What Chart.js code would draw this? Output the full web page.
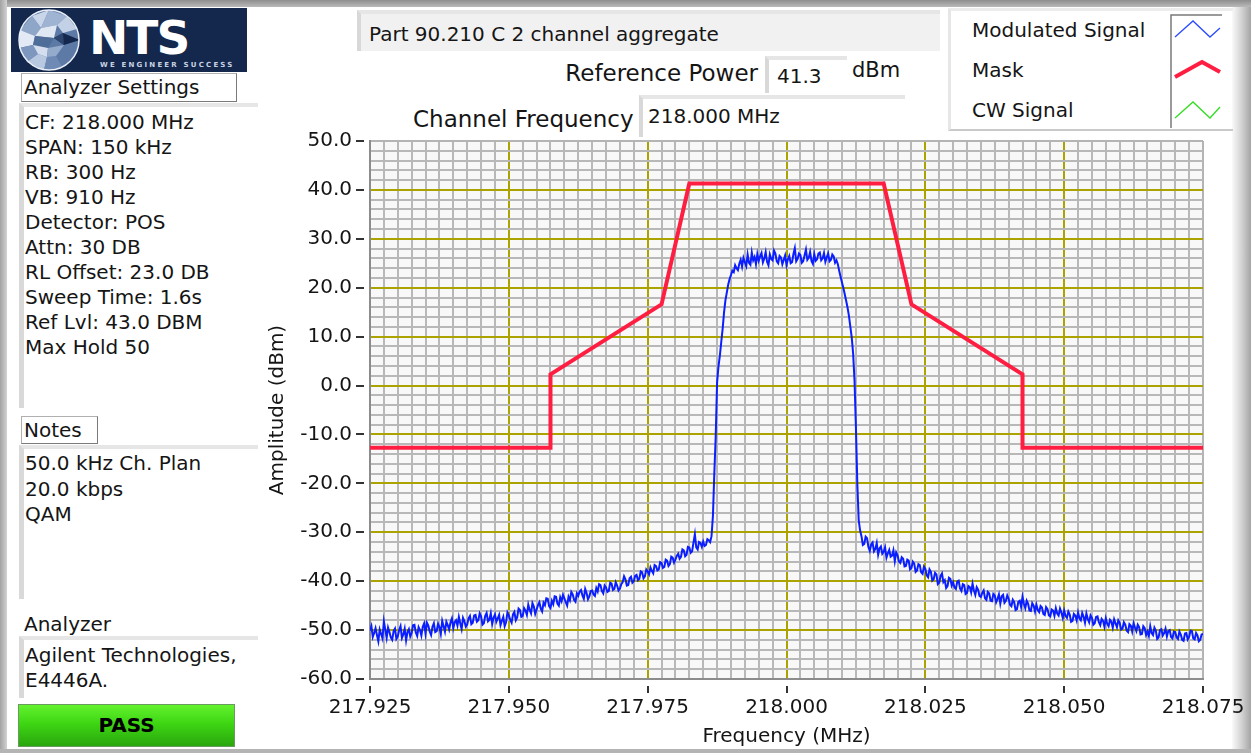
<!DOCTYPE html>
<html>
<head>
<meta charset="utf-8">
<script src="https://cdn.jsdelivr.net/npm/chart.js@4.4.1/dist/chart.umd.min.js"></script>
<style>
body { margin:0; width:1251px; height:753px; overflow:hidden; background:#fff; position:relative;
  font-family:"DejaVu Sans", Verdana, sans-serif; font-size:20px; color:#151515; }
.abs { position:absolute; }
.frameTop { left:0; top:0; width:1251px; height:7px; background:linear-gradient(#8e8e8e,#b9b9b9); }
.frameLeft { left:0; top:0; width:7px; height:753px; background:linear-gradient(90deg,#a2a2a2,#d2d2d2); }
.frameRight { left:1232px; top:7px; width:19px; height:746px; background:linear-gradient(90deg,#fafafa,#cfcfcf 55%,#a4a4a4); }
.frameBottom { left:0; top:749px; width:1251px; height:4px; background:#b4b4b4; }
.panel { background:#fff; border-left:5px solid #d9d9d9; border-top:4px solid #e6e6e6; box-sizing:border-box; line-height:25px; white-space:nowrap; }
.label { background:#fff; border:1px solid #b0b0b0; border-right-color:#7a7a7a; border-bottom-color:#7a7a7a; box-sizing:border-box; line-height:26px; padding-left:2px; white-space:nowrap; }
.logo { left:11px; top:8px; width:236px; height:64px; background:#14284d; overflow:hidden; }
.nts { left:78px; top:2px; font-weight:bold; font-size:47px; color:#fff; letter-spacing:-2px; }
.tag { left:89px; top:53px; font-size:7px; color:#c9d2e3; letter-spacing:2.2px; font-weight:bold; }
.pass { left:18px; top:704px; width:217px; height:43px; background:linear-gradient(#63f22e,#3ed613 45%,#2aa60e); border:1px solid #6a9a60;
  box-sizing:border-box; text-align:center; font-weight:bold; line-height:41px; color:#000; }
.field { background:#fff; border-left:4px solid #d8d8d8; border-top:4px solid #e6e6e6; box-sizing:border-box; white-space:nowrap; }
</style>
</head>
<body>
<div class="abs frameTop"></div>
<div class="abs frameLeft"></div>
<div class="abs frameRight"></div>
<div class="abs frameBottom"></div>

<div class="abs logo">
  <svg class="abs" style="left:0px;top:0px" width="80" height="64" viewBox="0 0 80 64">
    <circle cx="38" cy="32" r="30" fill="#5d7aa6"/>
    <polygon points="38,2 21,8 30,20" fill="#c9d6ea"/>
    <polygon points="21,8 9,22 24,28 30,20" fill="#8ea7c9"/>
    <polygon points="9,22 8,40 22,37 24,28" fill="#e3eaf5"/>
    <polygon points="8,40 16,54 27,46 22,37" fill="#7d97be"/>
    <polygon points="16,54 33,62 36,49 27,46" fill="#b8c8e0"/>
    <polygon points="33,62 51,59 45,48 36,49" fill="#6f8bb5"/>
    <polygon points="38,2 56,8 46,17 30,20" fill="#9fb4d3"/>
    <polygon points="30,20 46,17 43,30 24,28" fill="#dfe7f3"/>
    <polygon points="24,28 43,30 37,40 22,37" fill="#4f6d99"/>
    <polygon points="22,37 37,40 36,49 27,46" fill="#d4deee"/>
    <polygon points="37,40 53,37 45,48 36,49" fill="#94abcc"/>
    <polygon points="56,8 66,21 52,25 46,17" fill="#c3d1e7"/>
    <polygon points="52,25 69,32 53,37 43,30" fill="#14284d"/>
    <polygon points="43,30 52,25 53,37" fill="#2c4670"/>
    <circle cx="38" cy="32" r="30" fill="none" stroke="#e9eef7" stroke-width="1.5"/>
  </svg>
  <div class="abs nts">NTS</div>
  <div class="abs tag">WE ENGINEER SUCCESS</div>
</div>

<div class="abs label" style="left:21px;top:73px;width:216px;height:29px;">Analyzer Settings</div>
<div class="abs panel" style="left:19px;top:103px;width:239px;height:305px;padding:3px 0 0 1px;">
CF: 218.000 MHz<br>SPAN: 150 kHz<br>RB: 300 Hz<br>VB: 910 Hz<br>Detector: POS<br>Attn: 30 DB<br>RL Offset: 23.0 DB<br>Sweep Time: 1.6s<br>Ref Lvl: 43.0 DBM<br>Max Hold 50
</div>

<div class="abs label" style="left:21px;top:416px;width:77px;height:28px;">Notes</div>
<div class="abs panel" style="left:19px;top:445px;width:239px;height:154px;padding:2px 0 0 1px;line-height:25.5px;">
50.0 kHz Ch. Plan<br>20.0 kbps<br>QAM
</div>

<div class="abs" style="left:24px;top:611px;line-height:26px;">Analyzer</div>
<div class="abs panel" style="left:19px;top:636px;width:239px;height:62px;padding:3px 0 0 1px;">
Agilent Technologies,<br>E4446A.
</div>

<div class="abs pass">PASS</div>

<div class="abs field" style="left:357px;top:10px;width:583px;height:41px;background:#f1f1f1;padding-left:8px;line-height:40px;">Part 90.210 C 2 channel aggregate</div>

<div class="abs" style="left:500px;top:59px;width:258px;text-align:right;line-height:28px;font-size:23px;">Reference Power</div>
<div class="abs field" style="left:765px;top:56px;width:82px;height:37px;padding-left:8px;line-height:33px;">41.3</div>
<div class="abs" style="left:852px;top:57px;line-height:26px;font-size:21px;">dBm</div>

<div class="abs" style="left:413px;top:105px;line-height:28px;font-size:23px;">Channel Frequency</div>
<div class="abs field" style="left:639px;top:95px;width:266px;height:42px;padding-left:5px;line-height:34px;">218.000 MHz</div>

<div class="abs" style="left:948px;top:8px;width:285px;height:123px;border-left:3px solid #e6e6e6;border-top:3px solid #ececec;border-bottom:2px solid #c9c9c9;box-sizing:border-box;"></div>
<div class="abs" style="left:972px;top:17px;line-height:26px;">Modulated Signal</div>
<div class="abs" style="left:972px;top:57px;line-height:26px;">Mask</div>
<div class="abs" style="left:972px;top:97px;line-height:26px;">CW Signal</div>
<svg class="abs" style="left:1170px;top:14px" width="52" height="114">
  <polyline points="1,114 1,1 52,1" fill="none" stroke="#7a7a7a" stroke-width="1.5"/>
  <polyline points="5,23 23,7 40,23 50,14" fill="none" stroke="#2a4cff" stroke-width="1.3"/>
  <polyline points="5,63 32,48 50,58" fill="none" stroke="#ff1e42" stroke-width="4"/>
  <polyline points="5,104 23,88 40,104 50,93" fill="none" stroke="#33dd22" stroke-width="1.3"/>
</svg>

<canvas id="spectrumChart" class="abs" style="left:0;top:0" width="1251" height="753"></canvas>

<script>
// sweep: 601 points, 217.925 .. 218.075 MHz
var sweepStart = 217.925;
var sweepStep = 0.00025;

var sigAmp = [
  -50.1, -49.2, -51.4, -50.6, -49.6, -51.0, -52.3, -49.9, -50.8, -51.7, -48.2, -49.9, -51.6, -49.5, -50.4, -51.5, -52.0, -50.2, -49.7, -51.8,
  -51.3, -50.0, -49.2, -51.6, -50.9, -49.7, -52.1, -50.4, -49.8, -51.3, -50.6, -49.0, -48.9, -50.5, -51.2, -49.4, -50.0, -51.1, -49.3, -48.6,
  -50.7, -48.5, -49.1, -50.3, -51.0, -49.3, -48.6, -50.4, -50.2, -48.7, -49.4, -50.8, -48.1, -49.2, -50.3, -48.3, -49.0, -49.9, -48.4, -47.6,
  -49.6, -48.4, -48.0, -49.1, -47.3, -48.6, -49.8, -47.5, -48.2, -49.3, -48.9, -47.6, -47.1, -48.8, -48.5, -47.0, -46.9, -48.3, -48.0, -46.6,
  -47.2, -48.9, -48.6, -47.1, -46.5, -48.2, -47.9, -46.6, -48.8, -47.5, -46.8, -48.3, -47.6, -46.9, -49.0, -48.1, -47.3, -49.2, -48.4, -46.4,
  -47.0, -47.9, -48.5, -46.8, -46.3, -48.0, -47.4, -45.6, -45.9, -47.3, -47.1, -45.5, -46.0, -46.9, -44.8, -45.9, -46.6, -44.5, -45.2, -46.7,
  -45.8, -44.9, -44.3, -45.6, -46.2, -44.4, -44.9, -43.5, -43.6, -45.1, -45.5, -44.0, -44.7, -43.1, -43.2, -44.6, -45.0, -43.3, -44.1, -42.8,
  -43.5, -44.3, -45.0, -43.2, -43.9, -42.2, -42.7, -43.8, -44.2, -42.5, -43.0, -42.1, -41.8, -42.9, -43.6, -41.6, -42.4, -43.7, -43.1, -42.0,
  -41.9, -42.7, -43.0, -41.4, -42.1, -40.6, -40.8, -42.0, -42.5, -40.9, -41.3, -42.2, -42.0, -40.3, -40.5, -41.8, -41.6, -40.2, -40.9, -41.9,
  -41.5, -40.6, -40.2, -39.0, -39.6, -40.9, -40.8, -39.4, -39.1, -40.3, -40.0, -38.9, -38.7, -39.8, -39.5, -38.0, -38.2, -39.4, -39.0, -37.6,
  -38.0, -38.6, -37.2, -37.9, -38.4, -36.7, -36.9, -37.8, -37.6, -36.1, -36.3, -37.3, -37.1, -35.6, -35.8, -36.9, -36.5, -35.0, -35.2, -36.2,
  -35.6, -34.8, -34.4, -35.4, -35.0, -33.5, -33.7, -34.9, -34.6, -33.0, -33.1, -34.2, -33.9, -32.1, -30.4, -33.1, -33.5, -32.0, -32.2, -33.0,
  -31.9, -32.8, -32.6, -31.4, -31.6, -32.0, -30.8, -26.7, -18.0, -10.5, 0.6, 3.9, 6.1, 8.9, 11.6, 14.9, 17.4, 19.0, 20.6, 21.8,
  22.6, 23.5, 23.2, 24.6, 24.0, 23.6, 24.9, 25.7, 24.3, 26.1, 25.2, 24.4, 26.8, 25.1, 24.7, 27.2, 25.6, 26.3, 24.8, 26.9,
  25.5, 26.4, 27.1, 25.2, 26.0, 27.3, 25.3, 24.6, 26.8, 25.9, 25.6, 27.6, 27.0, 25.4, 25.0, 26.5, 26.2, 24.8, 25.7, 26.6,
  24.6, 25.8, 26.5, 25.0, 25.2, 26.9, 28.1, 25.4, 25.9, 27.0, 26.7, 25.1, 25.4, 26.6, 27.8, 25.7, 26.1, 27.3, 25.5, 24.9,
  26.9, 25.5, 25.8, 27.0, 27.2, 25.6, 26.0, 27.1, 25.3, 26.2, 27.0, 25.4, 25.7, 26.8, 26.4, 25.1, 25.6, 24.8, 23.4, 22.2,
  21.0, 19.9, 18.6, 17.3, 15.9, 14.2, 12.0, 9.8, 6.5, 1.0, -8.5, -20.0, -27.5, -29.6, -30.8, -32.6, -32.4, -30.9, -31.2, -33.0,
  -33.8, -32.5, -32.1, -33.9, -33.4, -32.2, -34.6, -33.3, -32.9, -34.4, -34.0, -33.1, -35.2, -34.3, -33.6, -35.0, -34.8, -33.7, -35.9, -34.1,
  -34.7, -36.0, -36.3, -35.1, -35.4, -37.0, -36.9, -35.6, -35.8, -37.6, -37.3, -36.0, -36.4, -38.1, -37.8, -36.5, -36.7, -38.2, -38.5, -37.0,
  -37.5, -38.8, -39.2, -37.6, -38.1, -39.9, -39.6, -38.3, -38.6, -40.6, -40.3, -38.9, -38.4, -40.2, -39.8, -41.4, -41.0, -39.3, -39.5, -40.9,
  -40.2, -41.3, -41.6, -40.1, -39.9, -41.5, -42.0, -40.6, -40.8, -42.6, -42.4, -41.0, -41.2, -42.3, -40.5, -41.9, -42.8, -41.2, -41.7, -43.0,
  -43.2, -42.4, -41.9, -43.5, -43.8, -42.2, -42.5, -44.0, -44.1, -42.6, -42.9, -44.3, -43.6, -42.7, -44.6, -43.1, -42.8, -44.4, -44.0, -42.9,
  -43.6, -44.8, -45.1, -43.8, -44.3, -45.9, -45.7, -44.2, -44.0, -45.3, -43.2, -44.6, -45.5, -44.0, -44.6, -46.0, -46.1, -44.5, -45.0, -46.2,
  -44.8, -45.9, -46.3, -45.1, -45.4, -46.7, -46.9, -45.3, -45.7, -47.0, -47.2, -45.8, -46.0, -47.1, -45.5, -46.6, -47.0, -45.6, -46.4, -47.5,
  -46.0, -47.1, -47.5, -46.2, -46.8, -48.3, -48.1, -46.7, -47.0, -48.0, -46.4, -47.6, -48.0, -46.5, -47.3, -48.5, -46.6, -47.7, -48.4, -47.0,
  -47.5, -48.9, -48.6, -47.3, -47.2, -48.4, -49.0, -47.7, -48.1, -49.3, -47.6, -48.7, -49.2, -47.9, -48.3, -49.5, -47.8, -48.6, -49.4, -48.0,
  -48.5, -49.9, -49.7, -48.4, -48.9, -50.1, -50.4, -48.8, -49.1, -50.3, -48.6, -49.5, -50.2, -48.9, -49.4, -50.9, -50.8, -49.2, -49.6, -51.0,
  -50.3, -51.2, -49.2, -50.6, -51.0, -49.5, -50.1, -51.8, -51.5, -50.0, -49.8, -51.1, -50.6, -49.7, -51.3, -50.2, -50.0, -51.4, -51.7, -50.3,
  -50.4, -51.5, -51.8, -50.3, -50.9, -52.0, -52.2, -50.7, -50.6, -51.9, -51.4, -50.1, -50.2, -51.7, -51.9, -50.6, -51.1, -52.3, -52.0, -50.9, -50.8
];

var maskFreq = [217.925, 217.9575, 217.9575, 217.9775, 217.9825, 218.0175, 218.0225, 218.0425, 218.0425, 218.075];
var maskAmp = [-12.7, -12.7, 2.3, 16.6, 41.3, 41.3, 16.6, 2.3, -12.7, -12.7];

var xMin = 217.925, xMax = 218.075, xStep = 0.0025, xMajor = 0.025;
var yMin = -60, yMax = 50, yStep = 2, yMajor = 10;

var sigData = sigAmp.map(function (a, i) { return { x: sweepStart + i * sweepStep, y: a }; });
var maskData = maskFreq.map(function (f, i) { return { x: f, y: maskAmp[i] }; });

function isMajor(v, base, major) {
  var k = (v - base) / major;
  return Math.abs(k - Math.round(k)) < 1e-4;
}

var plotBg = {
  id: 'plotBg',
  beforeDraw: function (chart) {
    var a = chart.chartArea, c = chart.ctx;
    c.save();
    c.fillStyle = '#f8f8f8';
    c.fillRect(a.left, a.top, a.right - a.left, a.bottom - a.top);
    c.restore();
  }
};

Chart.defaults.font.family = '"DejaVu Sans", Verdana, sans-serif';
Chart.defaults.font.size = 20;
Chart.defaults.color = '#151515';

var ctx = document.getElementById('spectrumChart').getContext('2d');
var spectrumChart = new Chart(ctx, {
  type: 'line',
  data: {
    datasets: [
      { label: 'Modulated Signal', data: sigData, borderColor: '#0a1eff', borderWidth: 2, pointRadius: 0, tension: 0 },
      { label: 'Mask', data: maskData, borderColor: '#ff1e42', borderWidth: 4, pointRadius: 0, tension: 0 },
      { label: 'CW Signal', data: [], borderColor: '#33dd22', borderWidth: 1, pointRadius: 0 }
    ]
  },
  options: {
    responsive: false,
    animation: false,
    events: [],
    layout: { padding: { left: 262, top: 141, right: 48, bottom: 0 } },
    plugins: { legend: { display: false }, tooltip: { enabled: false } },
    scales: {
      x: {
        type: 'linear', min: xMin, max: xMax,
        afterFit: function (s) { s.height = 74; },
        ticks: {
          stepSize: xStep, autoSkip: false, maxRotation: 0, padding: 3, color: '#151515',
          callback: function (v) { return isMajor(v, xMin, xMajor) ? v.toFixed(3) : ''; }
        },
        grid: {
          lineWidth: 2, tickLength: 14, tickWidth: 2, tickBorderDash: [0, 6, 8, 100],
          color: function (c) {
            var v = c.tick ? c.tick.value : 0;
            if (Math.abs(v - xMax) < 1e-6) return '#b4b4b4';
            return isMajor(v, xMin, xMajor) ? '#aba300' : '#b8b8b8';
          },
          tickColor: function (c) {
            var v = c.tick ? c.tick.value : 0;
            return isMajor(v, xMin, xMajor) ? '#333' : 'rgba(0,0,0,0)';
          }
        },
        border: { display: true, color: '#8c8c8c', width: 2 },
        title: { display: true, text: 'Frequency (MHz)', color: '#151515', font: { size: 20 } }
      },
      y: {
        min: yMin, max: yMax,
        afterFit: function (s) { s.width = 108; },
        ticks: {
          stepSize: yStep, autoSkip: false, padding: 4, color: '#151515',
          callback: function (v) { return isMajor(v, 0, yMajor) ? v.toFixed(1) : ''; }
        },
        grid: {
          lineWidth: 2, tickLength: 14, tickWidth: 2, tickBorderDash: [8, 100],
          color: function (c) {
            var v = c.tick ? c.tick.value : 0;
            if (Math.abs(v - yMax) < 1e-6) return '#b4b4b4';
            return isMajor(v, 0, yMajor) ? '#aba300' : '#b8b8b8';
          },
          tickColor: function (c) {
            var v = c.tick ? c.tick.value : 0;
            return isMajor(v, 0, yMajor) ? '#333' : 'rgba(0,0,0,0)';
          }
        },
        border: { display: true, color: '#8c8c8c', width: 2 },
        title: { display: true, text: 'Amplitude (dBm)', color: '#151515', font: { size: 20 } }
      }
    }
  },
  plugins: [plotBg]
});
</script>
</body>
</html>
